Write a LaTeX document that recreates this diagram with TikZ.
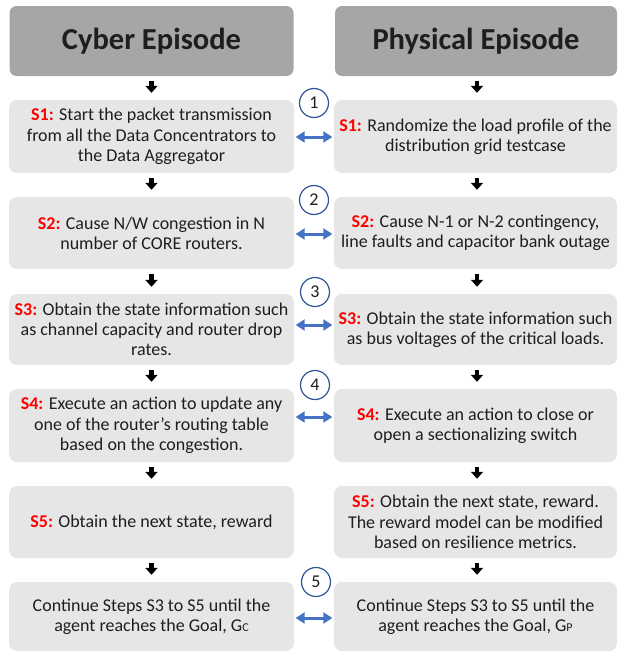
\documentclass[tikz,border=0pt]{standalone}
\usepackage{fontspec}
\setmainfont{Carlito}
\usetikzlibrary{arrows.meta}
\definecolor{hdrfill}{HTML}{A6A6A6}
\definecolor{boxfill}{HTML}{E6E6E6}
\definecolor{txt}{HTML}{1E1E1E}
\definecolor{blu}{HTML}{4472C4}
\definecolor{circ}{HTML}{2F5597}
\definecolor{sred}{HTML}{FF0000}
\newcommand{\stp}[1]{\textcolor{sred}{\textbf{#1}}}
\newcommand{\gsub}[1]{G\raisebox{-0.5pt}{\fontsize{12}{12}\selectfont #1}}
\tikzset{
  hdr/.style={draw=none, fill=hdrfill, rounded corners=7pt, inner sep=0pt,
    font=\fontsize{30.5}{33}\selectfont\bfseries, text=txt},
  stepbox/.style={draw=none, fill=boxfill, rounded corners=8pt, inner sep=0pt,
    align=center, font=\fontsize{18}{20.3}\selectfont, text=txt},
  blk/.style={line width=4.5pt, -{Triangle[width=12pt,length=7pt]},
    shorten <=5pt, shorten >=7pt, black},
  dbl/.style={line width=3pt, color=blu,
    {Triangle[width=11pt,length=9pt]}-{Triangle[width=11pt,length=9pt]},
    shorten <=1.5pt, shorten >=1.5pt},
  num/.style={circle, draw=circ, line width=1.2pt, fill=white, minimum size=29pt,
    inner sep=0pt, font=\fontsize{18}{18}\selectfont, text=txt}
}
\begin{document}
\begin{tikzpicture}[x=1pt,y=-1pt]
\useasboundingbox (0,0) rectangle (618,653);
% headers
\node[hdr, minimum width=284pt, minimum height=70pt] (hl) at (151.5,41) {Cyber Episode};
\node[hdr, minimum width=282pt, minimum height=70pt] (hr) at (476,41) {Physical Episode};
% left column
\node[stepbox, minimum width=285pt, minimum height=73pt] (l1) at (151.5,136.5)
  {\stp{S1:} Start the packet transmission\\from all the Data Concentrators to\\the Data Aggregator};
\node[stepbox, minimum width=285pt, minimum height=72pt] (l2) at (151.5,233)
  {\stp{S2:} Cause N/W congestion in N\\number of CORE routers.};
\node[stepbox, minimum width=285pt, minimum height=71pt] (l3) at (151.5,329.5)
  {\stp{S3:} Obtain the state information such\\as channel capacity and router drop\\rates.};
\node[stepbox, minimum width=285pt, minimum height=73pt] (l4) at (151.5,425.5)
  {\stp{S4:} Execute an action to update any\\one of the router’s routing table\\based on the congestion.};
\node[stepbox, minimum width=285pt, minimum height=72pt] (l5) at (151.5,522)
  {\stp{S5:} Obtain the next state, reward};
\node[stepbox, minimum width=285pt, minimum height=69pt] (l6) at (151.5,616.5)
  {Continue Steps S3 to S5 until the\\agent reaches the Goal, \gsub{C}};
% right column
\node[stepbox, minimum width=283pt, minimum height=73pt] (r1) at (475.5,136.5)
  {\stp{S1:} Randomize the load profile of the\\distribution grid testcase};
\node[stepbox, minimum width=283pt, minimum height=72pt] (r2) at (475.5,233)
  {\stp{S2:} Cause N-1 or N-2 contingency,\\line faults and capacitor bank outage};
\node[stepbox, minimum width=283pt, minimum height=71pt] (r3) at (475.5,329.5)
  {\stp{S3:} Obtain the state information such\\as bus voltages of the critical loads.};
\node[stepbox, minimum width=283pt, minimum height=73pt] (r4) at (475.5,425.5)
  {\stp{S4:} Execute an action to close or\\open a sectionalizing switch};
\node[stepbox, minimum width=283pt, minimum height=72pt] (r5) at (475.5,522)
  {\stp{S5:} Obtain the next state, reward.\\The reward model can be modified\\based on resilience metrics.};
\node[stepbox, minimum width=283pt, minimum height=69pt] (r6) at (475.5,616.5)
  {Continue Steps S3 to S5 until the\\agent reaches the Goal, \gsub{P}};
% vertical arrows
\draw[blk] (hl) -- (l1);
\draw[blk] (l1) -- (l2);
\draw[blk] (l2) -- (l3);
\draw[blk] (l3) -- (l4);
\draw[blk] (l4) -- (l5);
\draw[blk] (l5) -- (l6);
\draw[blk] (hr.south -| 477,0) -- (r1.north -| 477,0);
\draw[blk] (r1.south -| 477,0) -- (r2.north -| 477,0);
\draw[blk] (r2.south -| 477,0) -- (r3.north -| 477,0);
\draw[blk] (r3.south -| 477,0) -- (r4.north -| 477,0);
\draw[blk] (r4.south -| 477,0) -- (r5.north -| 477,0);
\draw[blk] (r5.south -| 477,0) -- (r6.north -| 477,0);
% horizontal double arrows
\coordinate (a1) at (314,137);
\coordinate (a2) at (314,234);
\coordinate (a3) at (314,325);
\coordinate (a4) at (314,417);
\coordinate (a5) at (314,618);
\draw[dbl] (l1.east |- a1) -- (r1.west |- a1);
\draw[dbl] (l2.east |- a2) -- (r2.west |- a2);
\draw[dbl] (l3.east |- a3) -- (r3.west |- a3);
\draw[dbl] (l4.east |- a4) -- (r4.west |- a4);
\draw[dbl] (l6.east |- a5) -- (r6.west |- a5);
% numbered circles
\node[num] (n1) at (314,103) {1};
\node[num] (n2) at (314,200) {2};
\node[num] (n3) at (315,292) {3};
\node[num] (n4) at (315,385) {4};
\node[num] (n5) at (316,582) {5};
\end{tikzpicture}
\end{document}
